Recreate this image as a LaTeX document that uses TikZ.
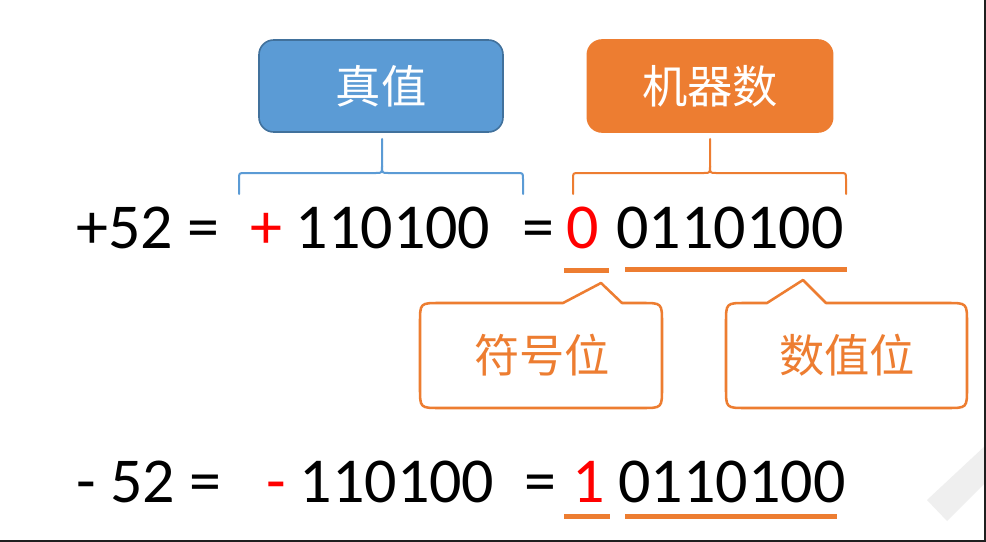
\documentclass[tikz,border=0pt]{standalone}
\usepackage{fontspec}
\setmainfont{Carlito}
\newfontfamily\cjk{Noto Sans CJK SC}
\definecolor{vblue}{HTML}{5B9BD5}
\definecolor{vblueD}{HTML}{41719C}
\definecolor{orng}{HTML}{ED7D31}
\definecolor{redd}{HTML}{FF0000}
\definecolor{wmark}{HTML}{EFEFEF}
\tikzset{
  num/.style={font=\fontsize{48}{48}\selectfont, inner sep=0pt, anchor=base},
  topbox/.style={rounded corners=11pt, minimum width=183pt, minimum height=69pt, inner sep=0pt,
                 text=white, font=\cjk\fontsize{34}{34}\selectfont, line width=1.2pt},
  brace/.style={line width=1.5pt, line join=round, line cap=round},
  uline/.style={draw=orng, line width=3.75pt},
  callout/.style={draw=orng, line width=1.9pt, fill=white, line join=round},
  ctext/.style={text=orng, font=\cjk\fontsize{34}{34}\selectfont, inner sep=0pt}
}
\begin{document}
\begin{tikzpicture}[x=0.75pt,y=-0.75pt]
\useasboundingbox (0,0) rectangle (986,542);
\fill[white] (0,0) rectangle (986,542);
% watermark
\fill[wmark] (927,500) -- (947,521) -- (986,482) -- (986,445) -- cycle;
% frame edges
\draw[line width=1.5pt, black!88] (985,0) -- (985,541) -- (0,541);

% top boxes
\node[topbox, fill=vblue, draw=vblueD] (zhen) at (381,86) {真值};
\node[topbox, fill=orng, draw=orng, minimum width=184pt] (jqs) at (710,86) {机器数};

% row 1
\node[num] (p52) at (148,248) {+52 =};
\node[num, text=redd] (psign) at (266,248) {+};
\node[num] (pabs) at (393,248) {110100};
\node[num] (peq) at (538,248) {=};
\node[num, text=redd] (pbit) at (583,248) {0};
\node[num] (pmag) at (730,248) {0110100};

% row 2
\node[num] (m52) at (149,502) {- 52 =};
\node[num, text=redd] (msign) at (276,502) {-};
\node[num] (mabs) at (397,502) {110100};
\node[num] (meq) at (540,502) {=};
\node[num, text=redd] (mbit) at (589,502) {1};
\node[num] (mmag) at (732,502) {0110100};

% braces
\draw[brace, draw=vblue] (239,194) -- (239,179) .. controls (239,173) .. (245,173) -- (376,173)
   .. controls (382,173) .. (382,166) -- (382,139);
\draw[brace, draw=vblue] (382,166) .. controls (382,173) .. (388,173) -- (517,173)
   .. controls (523,173) .. (523,179) -- (523,194);
\draw[brace, draw=orng] (573,194) -- (573,179) .. controls (573,173) .. (579,173) -- (704,173)
   .. controls (710,173) .. (710,166) -- (710,139);
\draw[brace, draw=orng] (710,166) .. controls (710,173) .. (716,173) -- (840,173)
   .. controls (846,173) .. (846,179) -- (846,194);

% underlines
\draw[uline] (564,270.5) -- (609,270.5);
\draw[uline] (625,269.5) -- (847,269.5);
\draw[uline] (564,516.5) -- (610,516.5);
\draw[uline] (625,516.5) -- (837,516.5);

% callouts
\draw[callout] (563,303) -- (601,283) -- (622,303) -- (642,303) .. controls (662,303) .. (662,323)
   -- (662,388) .. controls (662,408) .. (642,408) -- (440,408) .. controls (420,408) .. (420,388)
   -- (420,323) .. controls (420,303) .. (440,303) -- cycle;
\draw[callout] (767,303) -- (803,280) -- (826,303) -- (947,303) .. controls (967,303) .. (967,323)
   -- (967,388) .. controls (967,408) .. (947,408) -- (746,408) .. controls (726,408) .. (726,388)
   -- (726,323) .. controls (726,303) .. (746,303) -- cycle;
\node[ctext] (fhw) at (542,355) {符号位};
\node[ctext] (szw) at (847,355) {数值位};
\end{tikzpicture}
\end{document}
